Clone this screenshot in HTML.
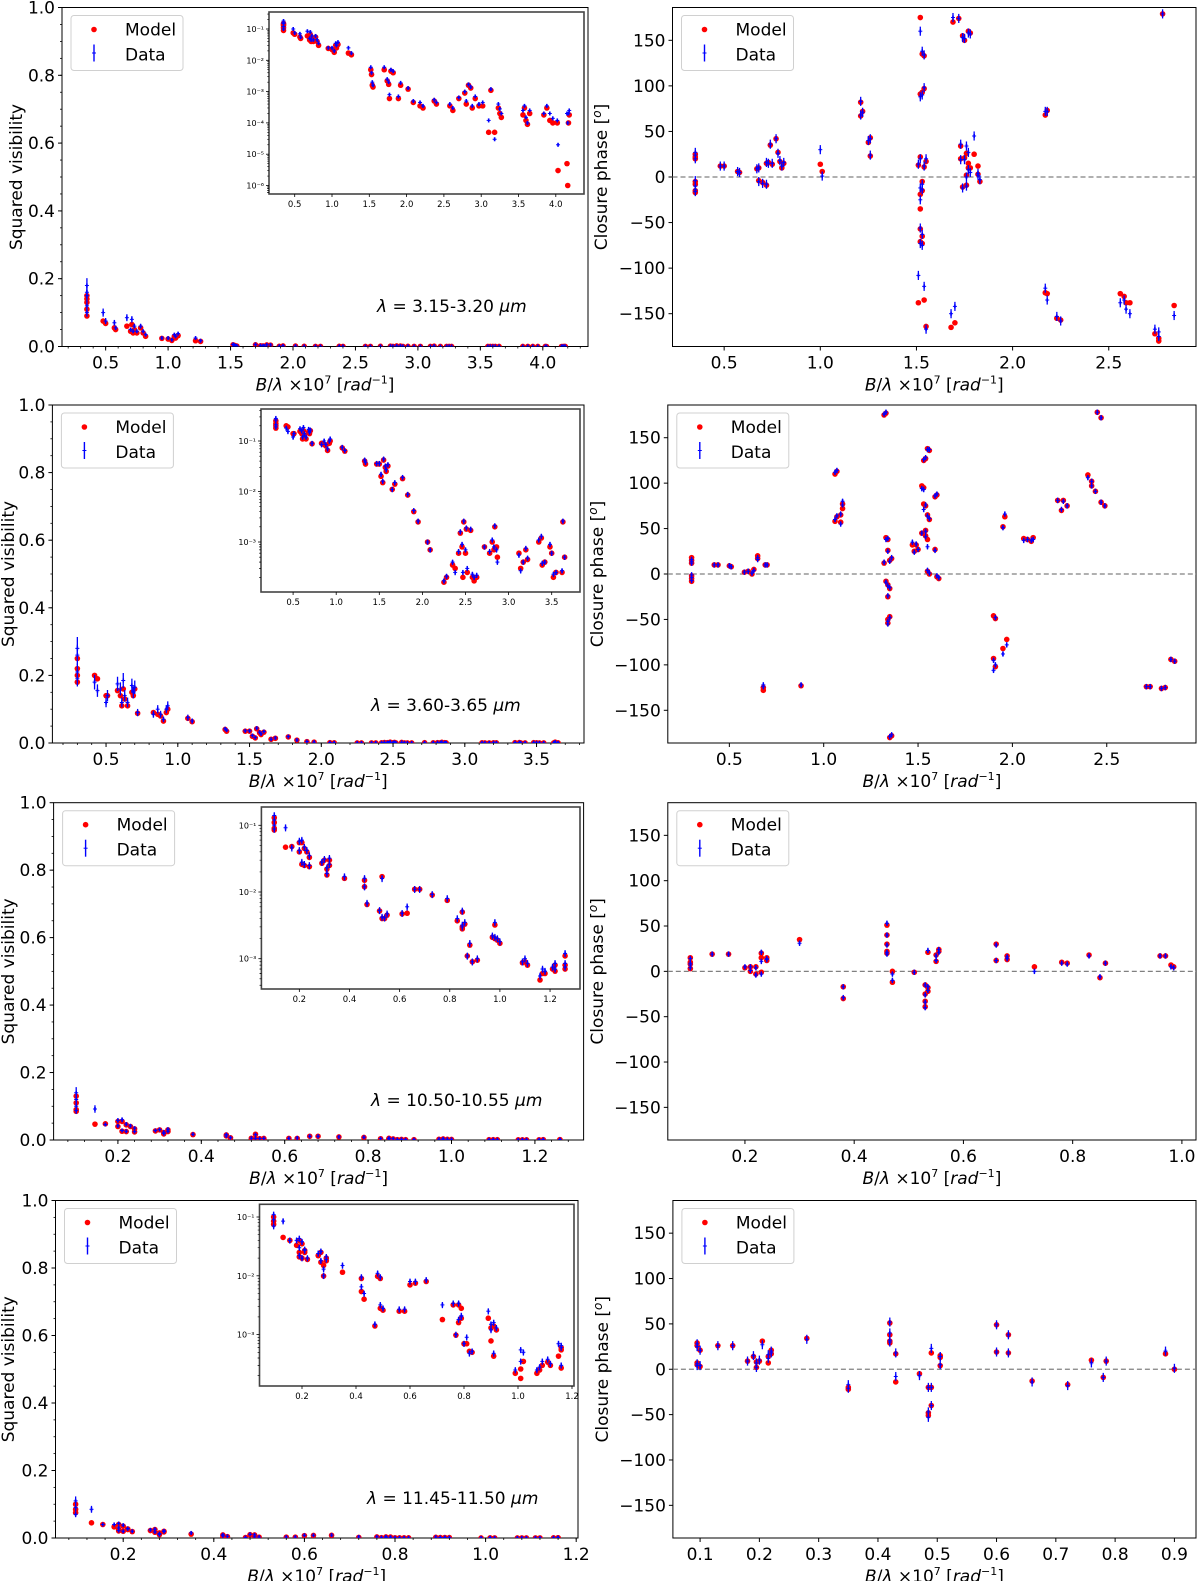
<!DOCTYPE html>
<html><head><meta charset="utf-8"><title>Visibility and closure phase fits</title>
<style>
html,body{margin:0;padding:0;background:#fff;}
svg{display:block;font-family:"DejaVu Sans","Liberation Sans",sans-serif;}
</style></head>
<body>
<svg id="fig" width="1200" height="1581" viewBox="0 0 1200 1581" xmlns="http://www.w3.org/2000/svg"></svg>
<script>
// ---------- Panel 1 (3.15-3.20 um) squared visibility ----------
const p1x=[0.35,0.35,0.35,0.35,0.35,0.48,0.50,0.57,0.58,0.67,0.70,0.71,0.72,0.73,0.75,0.78,0.80,0.82,0.95,1.00,1.03,1.05,1.06,1.08,1.22,1.26,1.52,1.53,1.54,1.55,1.70,1.74,1.76,1.77,1.79,1.82,1.89,1.92,2.02,2.09,2.18,2.22,2.37,2.40,2.58,2.62,2.70,2.78,2.80,2.83,2.86,2.88,2.92,2.97,3.02,3.10,3.13,3.18,3.23,3.25,3.27,3.56,3.58,3.60,3.62,3.65,3.84,3.88,3.92,3.96,4.02,4.03,4.15,4.16,4.17,4.18];
const p1model=[0.15,0.13,0.11,0.09,0.14,0.075,0.068,0.055,0.05,0.06,0.045,0.065,0.04,0.05,0.04,0.055,0.04,0.03,0.024,0.022,0.018,0.03,0.025,0.032,0.017,0.015,0.005,0.0035,0.0016,0.0014,0.005,0.0022,0.0017,0.0006,0.0045,0.004,0.0006,0.0016,0.0012,0.00045,0.00035,0.0003,0.0005,0.0004,0.00035,0.00025,0.0006,0.0009,0.0004,0.0016,0.0013,0.0003,0.0006,0.00035,0.00035,0.00005,0.0011,0.00005,0.0003,0.0002,0.00015,0.00018,0.0003,0.00012,0.00009,0.0002,0.00018,0.0003,0.00012,0.0001,0.0001,0.000003,0.000005,0.000001,0.0001,0.00018];
const p1data=[0.18,0.16,0.12,0.1,0.15,0.1,0.075,0.07,0.055,0.085,0.05,0.08,0.045,0.06,0.045,0.06,0.045,0.035,0.025,0.025,0.02,0.035,0.03,0.038,0.025,0.017,0.006,0.004,0.002,0.0016,0.006,0.0025,0.002,0.0008,0.005,0.0045,0.0007,0.0019,0.0013,0.0005,0.00045,0.00035,0.00055,0.00045,0.0004,0.0003,0.00065,0.001,0.0005,0.0017,0.0014,0.00035,0.0007,0.0004,0.00045,0.00012,0.0012,0.00003,0.0004,0.00028,0.0002,0.00025,0.00035,0.00015,0.0001,0.00025,0.0002,0.00035,0.0002,0.00014,0.00012,0.00002,0.0002,0.0001,0.0002,0.00025];
// ---------- Panel 2 (3.60-3.65 um) ----------
const p2x=[0.30,0.30,0.30,0.30,0.42,0.44,0.50,0.51,0.58,0.60,0.61,0.62,0.63,0.65,0.68,0.69,0.70,0.72,0.83,0.86,0.88,0.90,0.92,0.93,1.07,1.10,1.33,1.34,1.47,1.50,1.52,1.54,1.55,1.57,1.58,1.60,1.65,1.68,1.77,1.83,1.90,1.95,2.06,2.09,2.25,2.28,2.35,2.38,2.42,2.44,2.46,2.47,2.48,2.50,2.51,2.52,2.56,2.58,2.60,2.63,2.72,2.78,2.81,2.83,2.84,2.86,2.87,3.12,3.14,3.17,3.20,3.22,3.35,3.38,3.39,3.42,3.48,3.50,3.52,3.55,3.62,3.63,3.65];
const p2model=[0.25,0.22,0.2,0.18,0.2,0.19,0.14,0.14,0.155,0.14,0.11,0.16,0.13,0.11,0.15,0.14,0.16,0.088,0.09,0.085,0.08,0.065,0.09,0.1,0.073,0.063,0.04,0.035,0.035,0.035,0.02,0.015,0.042,0.03,0.025,0.032,0.011,0.014,0.018,0.0085,0.004,0.0025,0.001,0.0007,0.00016,0.0002,0.00035,0.0003,0.0006,0.0015,0.0008,0.0002,0.0025,0.0006,0.0018,0.00025,0.0017,0.0002,0.00017,0.0002,0.0008,0.0006,0.001,0.0007,0.002,0.0008,0.0005,0.0006,0.0003,0.0004,0.0007,0.00045,0.001,0.0012,0.00035,0.0004,0.0008,0.0006,0.0002,0.00025,0.00025,0.0025,0.0005];
const p2data=[0.28,0.26,0.21,0.19,0.18,0.155,0.12,0.14,0.175,0.16,0.12,0.185,0.14,0.12,0.17,0.15,0.165,0.09,0.085,0.1,0.085,0.07,0.1,0.11,0.075,0.065,0.042,0.038,0.036,0.036,0.022,0.016,0.044,0.032,0.027,0.034,0.011,0.015,0.019,0.0088,0.0042,0.0026,0.001,0.0007,0.00017,0.00021,0.0004,0.00025,0.00065,0.0016,0.0009,0.00025,0.0026,0.0007,0.0019,0.0003,0.0018,0.00023,0.0002,0.00022,0.0008,0.00065,0.0011,0.0008,0.0021,0.0007,0.0004,0.00055,0.00027,0.0004,0.00075,0.00048,0.0011,0.0013,0.00038,0.0004,0.0009,0.0006,0.00023,0.00025,0.00027,0.0026,0.0005];
// ---------- Panel 3 (10.50-10.55 um) ----------
const p3x=[0.10,0.10,0.10,0.10,0.145,0.17,0.20,0.20,0.21,0.21,0.22,0.22,0.23,0.24,0.24,0.29,0.30,0.31,0.31,0.32,0.32,0.38,0.46,0.46,0.47,0.52,0.53,0.53,0.54,0.55,0.61,0.63,0.66,0.68,0.73,0.79,0.83,0.85,0.85,0.85,0.86,0.87,0.88,0.89,0.91,0.97,0.98,0.98,0.99,1.00,1.09,1.10,1.11,1.16,1.17,1.18,1.21,1.22,1.22,1.26,1.26,1.26];
const p3model=[0.13,0.11,0.09,0.085,0.047,0.048,0.055,0.04,0.055,0.026,0.045,0.025,0.04,0.033,0.024,0.027,0.03,0.022,0.018,0.03,0.025,0.016,0.015,0.012,0.0065,0.0052,0.017,0.004,0.004,0.0045,0.0047,0.0048,0.011,0.011,0.009,0.0075,0.0037,0.005,0.003,0.0028,0.0033,0.0011,0.0016,0.0009,0.00095,0.0021,0.0032,0.002,0.0019,0.0017,0.00087,0.0009,0.0008,0.00048,0.0006,0.0006,0.0007,0.00065,0.0008,0.0007,0.0008,0.0011];
const p3data=[0.14,0.12,0.1,0.088,0.092,0.046,0.058,0.042,0.06,0.028,0.047,0.026,0.042,0.035,0.025,0.028,0.031,0.023,0.019,0.032,0.026,0.017,0.016,0.012,0.0068,0.0053,0.016,0.0042,0.0041,0.0047,0.0048,0.006,0.011,0.011,0.0092,0.008,0.004,0.0052,0.0032,0.003,0.0035,0.0011,0.0017,0.0009,0.001,0.0022,0.0035,0.0021,0.002,0.0018,0.0009,0.001,0.00085,0.00055,0.0007,0.00065,0.00075,0.0007,0.00085,0.00075,0.00085,0.0012];
// ---------- Panel 4 (11.45-11.50 um) ----------
const p4x=[0.095,0.095,0.095,0.13,0.155,0.18,0.19,0.19,0.19,0.20,0.20,0.21,0.21,0.22,0.26,0.27,0.27,0.28,0.28,0.29,0.29,0.35,0.42,0.42,0.43,0.47,0.48,0.49,0.49,0.50,0.56,0.58,0.60,0.62,0.66,0.72,0.76,0.77,0.78,0.78,0.79,0.79,0.80,0.81,0.82,0.83,0.89,0.90,0.90,0.91,0.91,0.92,0.99,1.01,1.01,1.02,1.07,1.08,1.09,1.11,1.12,1.15,1.16,1.16,1.16];
const p4model=[0.1,0.085,0.075,0.045,0.04,0.033,0.04,0.025,0.021,0.035,0.02,0.027,0.025,0.019,0.022,0.025,0.017,0.015,0.0099,0.02,0.018,0.0115,0.009,0.0054,0.004,0.0014,0.0098,0.0028,0.009,0.0026,0.0025,0.0025,0.007,0.0075,0.008,0.0018,0.0032,0.00098,0.0032,0.0016,0.0028,0.0019,0.0007,0.0007,0.00052,0.0005,0.0019,0.0013,0.00078,0.0014,0.00043,0.0012,0.00022,0.00026,0.00018,0.00035,0.00022,0.00025,0.0003,0.00034,0.0003,0.00043,0.0006,0.00027,0.00055];
const p4data=[0.11,0.09,0.07,0.085,0.04,0.04,0.043,0.03,0.022,0.038,0.02,0.028,0.027,0.02,0.024,0.026,0.018,0.013,0.01,0.021,0.019,0.015,0.0095,0.0065,0.005,0.0015,0.011,0.0032,0.0095,0.0028,0.0027,0.0027,0.008,0.008,0.0085,0.0032,0.0034,0.001,0.0034,0.0018,0.0021,0.002,0.0007,0.0009,0.00048,0.00052,0.0025,0.0015,0.0012,0.0016,0.00048,0.0013,0.00025,0.00035,0.00055,0.0005,0.00025,0.00028,0.00035,0.00038,0.00032,0.0007,0.00065,0.0003,0.0006];
// ---------- Closure phases ----------
const c1x=[0.35,0.35,0.35,0.35,0.35,0.35,0.35,0.48,0.50,0.57,0.58,0.67,0.68,0.68,0.70,0.72,0.72,0.73,0.74,0.75,0.77,0.78,0.79,0.80,0.81,1.00,1.01,1.21,1.21,1.22,1.25,1.26,1.26,1.51,1.51,1.52,1.52,1.52,1.52,1.52,1.52,1.52,1.53,1.53,1.53,1.53,1.53,1.53,1.54,1.54,1.54,1.54,1.55,1.55,1.68,1.69,1.70,1.72,1.73,1.73,1.74,1.74,1.75,1.75,1.76,1.76,1.76,1.77,1.77,1.77,1.78,1.78,1.80,1.82,1.82,1.83,2.17,2.17,2.18,2.18,2.23,2.25,2.56,2.58,2.59,2.61,2.74,2.76,2.76,2.78,2.84];
const c1model=[25,22,20,-5,-8,-15,-17,12,12,6,5,9,10,-4,-6,-9,15,16,35,14,42,27,17,10,15,14,6,82,67,72,38,43,23,13,-138,175,91,22,-19,-35,-57,-71,135,93,-5,-15,-65,-73,133,97,11,-135,17,-164,-165,170,-160,174,34,20,155,-11,150,21,26,-9,2,160,15,10,158,10,25,12,3,-5,68,-127,73,-128,-155,-157,-128,-131,-138,-138,-172,-177,-180,179,-141];
const c1data=[27,24,20,-4,-10,-14,-16,12,12,6,5,9,10,-5,-7,-8,16,15,36,15,42,26,18,12,16,30,1,83,68,71,40,42,24,14,-108,160,88,20,-25,-12,-56,-73,138,90,-8,-14,-63,-75,134,98,12,-120,20,-167,-150,175,-142,174,36,19,153,-12,152,19,34,-10,0,158,27,8,157,5,45,2,4,-3,72,-122,72,-135,-153,-158,-138,-135,-145,-150,-167,-175,-170,179,-152];
const c2x=[0.30,0.30,0.30,0.30,0.30,0.30,0.42,0.44,0.50,0.51,0.58,0.60,0.62,0.63,0.65,0.65,0.68,0.68,0.69,0.70,0.88,1.06,1.06,1.07,1.07,1.09,1.09,1.10,1.10,1.32,1.33,1.32,1.33,1.34,1.34,1.33,1.34,1.35,1.34,1.34,1.35,1.34,1.35,1.36,1.35,1.36,1.47,1.48,1.49,1.50,1.52,1.52,1.53,1.53,1.53,1.54,1.54,1.54,1.54,1.55,1.55,1.55,1.55,1.56,1.56,1.56,1.59,1.59,1.60,1.60,1.61,1.90,1.90,1.91,1.91,1.95,1.95,1.96,1.97,2.06,2.08,2.10,2.11,2.24,2.26,2.27,2.29,2.40,2.42,2.42,2.44,2.45,2.47,2.47,2.49,2.71,2.73,2.79,2.81,2.84,2.86];
const c2model=[18,15,12,-2,-5,-8,10,10,9,8,2,3,0,5,20,17,-128,-125,10,10,-123,110,58,63,113,65,57,72,77,175,177,12,40,38,26,-8,-12,-16,-25,-50,-47,-54,-180,-178,15,17,32,25,32,27,97,45,95,125,77,127,75,48,42,138,65,38,3,136,60,0,27,85,87,-3,-5,-46,-93,-49,-102,52,-82,63,-72,39,38,36,40,81,70,81,75,109,102,97,91,178,172,79,75,-124,-124,-126,-125,-94,-96];
const c2data=[16,14,12,-1,-4,-7,10,10,9,8,2,3,1,4,18,16,-124,-122,10,10,-122,112,60,64,114,66,55,80,76,176,178,13,38,39,25,-9,-13,-15,-24,-52,-48,-55,-179,-177,14,18,35,24,33,27,94,45,93,126,71,128,76,47,41,137,64,30,4,137,61,1,26,86,88,-2,-4,-106,-95,-48,-100,51,-88,66,-78,37,38,37,38,81,71,80,75,106,102,97,91,178,172,79,75,-124,-124,-126,-125,-94,-96];
const c3x=[0.10,0.10,0.10,0.10,0.14,0.17,0.20,0.21,0.21,0.22,0.22,0.23,0.23,0.23,0.24,0.24,0.30,0.38,0.38,0.46,0.46,0.46,0.46,0.46,0.47,0.47,0.51,0.53,0.53,0.53,0.53,0.535,0.535,0.535,0.55,0.55,0.555,0.555,0.66,0.66,0.68,0.68,0.73,0.78,0.79,0.83,0.85,0.86,0.96,0.97,0.98,0.985];
const c3model=[15,10,8,3,19,19,4,5,0,-3,5,15,-1,20,12,15,35,-17,-30,51,40,30,22,20,0,-12,-1,-15,-25,-33,-39,21,-18,-22,18,11,24,22,30,12,17,13,5,10,9,18,-7,9,17,17,7,5];
const c3data=[14,9,7,4,19,19,5,5,1,-4,4,11,-3,21,13,14,31,-17,-29,53,40,29,21,19,-3,-10,-1,-15,-26,-34,-40,23,-17,-21,17,12,24,21,29,12,16,14,0,9,8,17,-6,9,17,17,5,4];
const c4x=[0.095,0.095,0.095,0.095,0.10,0.10,0.13,0.155,0.18,0.19,0.195,0.195,0.20,0.205,0.215,0.215,0.22,0.22,0.28,0.35,0.35,0.42,0.42,0.42,0.42,0.43,0.43,0.47,0.485,0.485,0.485,0.49,0.49,0.49,0.505,0.505,0.505,0.60,0.60,0.62,0.62,0.66,0.72,0.76,0.78,0.785,0.885,0.90];
const c4model=[29,26,7,5,21,3,26,26,9,14,2,8,9,31,7,14,17,21,34,-20,-22,51,38,31,29,17,-14,-5,-20,-51,-48,18,-20,-40,15,13,4,49,19,38,18,-13,-17,10,-9,9,17,0];
const c4data=[28,25,6,4,21,4,26,26,9,15,2,7,10,27,12,16,18,20,33,-17,-21,52,40,32,30,18,-8,-7,-20,-53,-47,23,-20,-40,14,14,5,49,19,38,18,-14,-18,7,-9,9,20,1];
// tick labels
const v2Ticks=[0.0,0.2,0.4,0.6,0.8,1.0];
const cpTicks=[-150,-100,-50,0,50,100,150];
const xTicks1=[0.5,1.0,1.5,2.0,2.5,3.0,3.5,4.0];
const xTicks2=[0.5,1.0,1.5,2.0,2.5,3.0,3.5];
const xTicks34=[0.2,0.4,0.6,0.8,1.0,1.2];
const cxTicks12=[0.5,1.0,1.5,2.0,2.5];
const cxTicks3=[0.2,0.4,0.6,0.8,1.0];
const cxTicks4=[0.1,0.2,0.3,0.4,0.5,0.6,0.7,0.8,0.9];
const insetYTicks1=[-1,-2,-3,-4,-5,-6];
const insetYTicks234=[-1,-2,-3];
const lambdaLabels=["3.15-3.20","3.60-3.65","10.50-10.55","11.45-11.50"];

const NS="http://www.w3.org/2000/svg";
const svg=document.getElementById('fig');
function mk(tag,attrs,parent){const e=document.createElementNS(NS,tag);for(const k in attrs)e.setAttribute(k,attrs[k]);(parent||svg).appendChild(e);return e;}
function fmt(v,d){return v.toFixed(d);}
function supLabel(g,x,y,exp,size,anchor){
  const t=mk('text',{x:x,y:y,'font-size':size,'text-anchor':anchor||'end','fill':'#000'},g);
  t.textContent='10'+exp;
  return t;
}
const SUP={'-':'\u207B','0':'\u2070','1':'\u00B9','2':'\u00B2','3':'\u00B3','4':'\u2074','5':'\u2075','6':'\u2076'};
function supStr(n){return String(n).split('').map(c=>SUP[c]).join('');}

function xLabel(g,cx,y){
  const t=mk('text',{x:cx,y:y,'font-size':17,'text-anchor':'middle'},g);
  
  
  t.innerHTML='<tspan font-style="italic">B</tspan>/<tspan font-style="italic">λ</tspan> ×10<tspan dy="-7" font-size="11">7</tspan><tspan dy="7"> [</tspan><tspan font-style="italic">rad</tspan><tspan dy="-7" font-size="11">−1</tspan><tspan dy="7">]</tspan>';
}
function legend(g,x,y){
  const lg=mk('g',{},g);
  
  
  mk('rect',{x:x,y:y,width:112,height:55,rx:3,fill:'#fff','fill-opacity':0.85,stroke:'#d0d0d0','stroke-width':1},lg);
  const m=mk('circle',{cx:x+23,cy:y+14,r:2.8,fill:'#ff0000'},lg);
  
  
  const t1=mk('text',{x:x+54,y:y+20,'font-size':17},lg);t1.textContent='Model';
  
  
  mk('line',{x1:x+23,x2:x+23,y1:y+29,y2:y+46,stroke:'#0000ff','stroke-width':1.4},lg);
  mk('line',{x1:x+21,x2:x+25,y1:y+37.5,y2:y+37.5,stroke:'#0000ff','stroke-width':1},lg);
  const t2=mk('text',{x:x+54,y:y+45,'font-size':17},lg);t2.textContent='Data';
  
  
}
let clipId=0;
function clip(g,x,y,w,h){const id='c'+(clipId++);const cp=mk('clipPath',{id:id},g);mk('rect',{x:x,y:y,width:w,height:h},cp);return 'url(#'+id+')';}

function drawPoints(g,X,Y,xs,model,data,err,relErr,minY,maxY){
  const n=Math.min(xs.length,model.length,data.length);
  const md=mk('g',{},g);
  
  
  for(let i=0;i<n;i++){
    const c=mk('circle',{cx:X(xs[i]),cy:Y(model[i]),r:2.8,fill:'#ff0000'},md);
    
    
  }
  const dd=mk('g',{},g);
  
  
  for(let i=0;i<n;i++){
    const v=data[i];const e=relErr?v*err:err;
    let lo=v-e,hi=v+e;if(minY!==undefined&&lo<minY)lo=minY;
    const px=X(xs[i]),py=Y(v);
    const gg=mk('g',{},dd);
    
    
    mk('line',{x1:px,x2:px,y1:Y(lo),y2:Y(hi),stroke:'#0000ff','stroke-width':1.3},gg);
    mk('line',{x1:px-2,x2:px+2,y1:py,y2:py,stroke:'#0000ff','stroke-width':1},gg);
    mk('line',{x1:px,x2:px,y1:py-2,y2:py+2,stroke:'#0000ff','stroke-width':1.6},gg);
  }
}

function axesFrame(g,b){
  const r=mk('rect',{x:b.l,y:b.t,width:b.r-b.l,height:b.b-b.t,fill:'none',stroke:'#000','stroke-width':1},g);
  
  
}

function v2Panel(idx,b,x0,kx,xt,xminor,xs,model,data,inset){
  const g=mk('g',{});
  
  
  const X=v=>x0+kx*v;
  const Y=v=>b.b-(b.b-b.t)*v;
  axesFrame(g,b);
  // y ticks
  const yax=mk('g',{},g);
  
  
  v2Ticks.forEach(v=>{const y=Y(v);mk('line',{x1:b.l-4,x2:b.l,y1:y,y2:y,stroke:'#000'},yax);
    const t=mk('text',{x:b.l-7,y:y+6,'font-size':17,'text-anchor':'end'},yax);t.textContent=fmt(v,1);});
  for(let v=0.05;v<1;v+=0.05){const y=Y(v);mk('line',{x1:b.l-2,x2:b.l,y1:y,y2:y,stroke:'#000','stroke-width':0.8},yax);}
  const xax=mk('g',{},g);
  
  
  xt.forEach(v=>{const x=X(v);mk('line',{x1:x,x2:x,y1:b.b,y2:b.b+4,stroke:'#000'},xax);
    const t=mk('text',{x:x,y:b.b+22,'font-size':17,'text-anchor':'middle'},xax);t.textContent=fmt(v,1);});
  const vmin=(b.l-x0)/kx,vmax=(b.r-x0)/kx;
  for(let k=Math.ceil(vmin/xminor);k*xminor<=vmax;k++){const x=X(k*xminor);mk('line',{x1:x,x2:x,y1:b.b,y2:b.b+2,stroke:'#000','stroke-width':0.8},xax);}
  const yl=mk('text',{x:0,y:0,'font-size':17,'text-anchor':'middle',transform:'translate('+b.yl+','+((b.t+b.b)/2)+') rotate(-90)'},g);
  yl.textContent='Squared visibility';
  
  
  xLabel(g,(b.l+b.r)/2,b.b+44);
  const pg=mk('g',{'clip-path':clip(g,b.l,b.t,b.r-b.l,b.b-b.t)},g);
  drawPoints(pg,X,Y,xs,model,data,0.12,true,0);
  legend(g,b.l+9,b.t+8);
  const ann=mk('text',{x:b.ax,y:b.ay,'font-size':17},g);
  
  
  ann.innerHTML='<tspan font-style="italic">λ</tspan> = '+lambdaLabels[idx]+' <tspan font-style="italic">μm</tspan>';
  // inset
  const ig=mk('g',{},g);
  
  
  const ib=inset.box;
  mk('rect',{x:ib.l,y:ib.t,width:ib.r-ib.l,height:ib.b-ib.t,fill:'#fff',stroke:'#444','stroke-width':1.6},ig);
  const IX=v=>inset.x0+inset.kx*v;
  const IY=v=>inset.ym1+(-1-Math.log10(v))*inset.dec;
  xt.forEach(v=>{const x=IX(v);if(x<ib.l||x>ib.r)return;mk('line',{x1:x,x2:x,y1:ib.b,y2:ib.b+3,stroke:'#000','stroke-width':0.8},ig);
    const t=mk('text',{x:x,y:ib.b+13,'font-size':8.5,'text-anchor':'middle'},ig);t.textContent=fmt(v,1);});
  inset.yt.forEach(p=>{const y=inset.ym1+(-1-p)*inset.dec;mk('line',{x1:ib.l-3,x2:ib.l,y1:y,y2:y,stroke:'#000','stroke-width':0.8},ig);
    const t=mk('text',{x:ib.l-5,y:y+3,'font-size':8,'text-anchor':'end'},ig);t.textContent='10'+supStr(p);
    for(let m=2;m<10;m++){const yy=IY(m*Math.pow(10,p-1));if(yy>ib.t&&yy<ib.b)mk('line',{x1:ib.l-1.8,x2:ib.l,y1:yy,y2:yy,stroke:'#000','stroke-width':0.6},ig);}
  });
  {const p=inset.yt[inset.yt.length-1]-1;for(let m=2;m<10;m++){const yy=IY(m*Math.pow(10,p));if(yy>ib.t&&yy<ib.b)mk('line',{x1:ib.l-1.8,x2:ib.l,y1:yy,y2:yy,stroke:'#000','stroke-width':0.6},ig);}}
  {for(let m=2;m<10;m++){const yy=IY(m*0.1);if(yy>ib.t&&yy<ib.b)mk('line',{x1:ib.l-1.8,x2:ib.l,y1:yy,y2:yy,stroke:'#000','stroke-width':0.6},ig);}}
  const ipg=mk('g',{'clip-path':clip(ig,ib.l+1,ib.t+1,ib.r-ib.l-2,ib.b-ib.t-2)},ig);
  drawPoints(ipg,IX,IY,xs,model,data,0.12,true,1e-7);
}

function cpPanel(idx,b,x0,kx,xt,xs,model,data,err){
  const g=mk('g',{});
  
  
  const X=v=>x0+kx*v;
  const Y=v=>(b.t+b.b)/2-v*(b.b-b.t)/372;
  axesFrame(g,b);
  const yax=mk('g',{},g);
  
  
  cpTicks.forEach(v=>{const y=Y(v);mk('line',{x1:b.l-4,x2:b.l,y1:y,y2:y,stroke:'#000'},yax);
    const t=mk('text',{x:b.l-7,y:y+6,'font-size':17,'text-anchor':'end'},yax);t.textContent=(v<0?'−'+(-v):String(v));});
  const xax=mk('g',{},g);
  
  
  xt.forEach(v=>{const x=X(v);mk('line',{x1:x,x2:x,y1:b.b,y2:b.b+4,stroke:'#000'},xax);
    const t=mk('text',{x:x,y:b.b+22,'font-size':17,'text-anchor':'middle'},xax);t.textContent=fmt(v,1);});
  const yl=mk('text',{x:0,y:0,'font-size':17,'text-anchor':'middle',transform:'translate('+b.yl+','+((b.t+b.b)/2)+') rotate(-90)'},g);
  
  
  yl.innerHTML='Closure phase [<tspan dy="-6" font-size="12" font-style="italic">o</tspan><tspan dy="6">]</tspan>';
  xLabel(g,(b.l+b.r)/2,b.b+44);
  const z=mk('line',{x1:b.l,x2:b.r,y1:Y(0),y2:Y(0),stroke:'#808080','stroke-width':1.3,'stroke-dasharray':'5,3'},g);
  
  
  const pg=mk('g',{'clip-path':clip(g,b.l,b.t,b.r-b.l,b.b-b.t)},g);
  drawPoints(pg,X,Y,xs,model,data,err,false);
  legend(g,b.l+9,b.t+8);
}

// layout (pixel geometry)
const rowTop=[7.5,405,802.7,1200.5], rowBot=[346.5,743,1140,1538];
v2Panel(0,{l:62,r:588,t:rowTop[0],b:rowBot[0],yl:22,ax:377,ay:312},43.2,124.9,xTicks1,0.1,p1x,p1model,p1data,
  {box:{l:269,r:584,t:12,b:194},x0:257.4,kx:74.6,ym1:29,dec:31.3,yt:insetYTicks1});
v2Panel(1,{l:52.4,r:584,t:rowTop[1],b:rowBot[1],yl:14,ax:371,ay:711},34.3,143.5,xTicks2,0.1,p2x,p2model,p2data,
  {box:{l:261,r:580,t:409,b:592},x0:250,kx:86.2,ym1:441,dec:50.5,yt:insetYTicks234});
v2Panel(2,{l:53.6,r:583.6,t:rowTop[2],b:rowBot[2],yl:14,ax:371,ay:1106},34.5,417,xTicks34,0.04,p3x,p3model,p3data,
  {box:{l:261.4,r:580,t:807,b:989},x0:249.2,kx:250.7,ym1:825.3,dec:66.7,yt:insetYTicks234});
v2Panel(3,{l:55.5,r:578,t:rowTop[3],b:rowBot[3],yl:14,ax:367,ay:1504},32.6,453,xTicks34,0.04,p4x,p4model,p4data,
  {box:{l:259.5,r:574,t:1204.3,b:1386},x0:248,kx:270,ym1:1217,dec:58.8,yt:insetYTicks234});
cpPanel(0,{l:672.5,r:1196,t:rowTop[0],b:rowBot[0],yl:607},628,192.3,cxTicks12,c1x,c1model,c1data,5);
cpPanel(1,{l:667.8,r:1196,t:rowTop[1],b:rowBot[1],yl:603},635,188.7,cxTicks12,c2x,c2model,c2data,3);
cpPanel(2,{l:667.8,r:1196,t:rowTop[2],b:rowBot[2],yl:603},635.7,546.2,cxTicks3,c3x,c3model,c3data,3);
cpPanel(3,{l:672.9,r:1196,t:rowTop[3],b:rowBot[3],yl:608},640.8,592.9,cxTicks4,c4x,c4model,c4data,5);
</script>
</body></html>
